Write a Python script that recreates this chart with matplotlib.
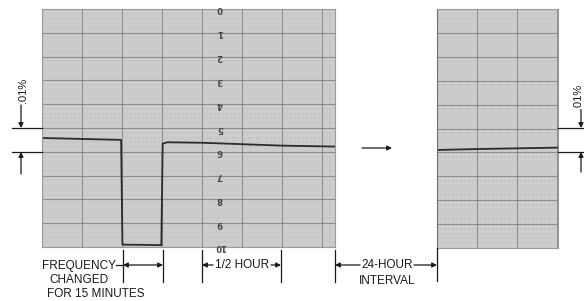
import matplotlib
matplotlib.use("Agg")
import matplotlib.pyplot as plt
import numpy as np

# recorder trace, x in minutes, y in chart divisions (0 = top, 10 = bottom)
left_t = [0, 15, 29.7, 30.2, 44.8, 45.3, 47, 60, 75, 90, 110]
left_v = [5.42, 5.46, 5.5, 9.9, 9.92, 5.66, 5.6, 5.62, 5.68, 5.74, 5.78]
right_t = [0, 15, 30, 45.4]
right_v = [5.9, 5.86, 5.83, 5.8]
scale_labels = [str(i) for i in range(11)]

W, H = 584, 301
fig = plt.figure(figsize=(W / 100, H / 100), dpi=100)
fig.patch.set_facecolor("white")

txt_font = ["Liberation Sans", "DejaVu Sans"]
paper = "#cdcdcd"
trace_col = "#2b2b2b"


def panel(x0, x1, y0, y1, xmax):
    ax = fig.add_axes([x0 / W, 1 - y1 / H, (x1 - x0) / W, (y1 - y0) / H])
    ax.set_facecolor(paper)
    ax.set_xlim(0, xmax)
    ax.set_ylim(10, 0)
    ax.set_xticks(np.arange(0, xmax, 15))
    ax.set_xticks(np.arange(0, xmax, 3), minor=True)
    ax.set_yticks(np.arange(0, 11, 1))
    ax.set_yticks(np.arange(0, 10, 0.2), minor=True)
    ax.grid(which="major", color="#8c8c8c", lw=0.8)
    ax.grid(which="minor", color="#bdbdbd", lw=0.35)
    ax.tick_params(which="both", length=0, labelbottom=False, labelleft=False)
    for s in ax.spines.values():
        s.set_color("#9a9a9a")
        s.set_linewidth(0.8)
    ax.set_axisbelow(True)
    return ax


axl = panel(42, 335, 9, 247, 110)
axl.plot(left_t, left_v, color=trace_col, lw=1.3, solid_joinstyle="round")
for i, lab in enumerate(scale_labels):
    axl.text(66.8, i, lab, rotation=180, fontsize=6, color="#444444",
             ha="center", va="center", fontweight="bold")

axr = panel(437, 558, 9, 248, 45.4)
axr.plot(right_t, right_v, color=trace_col, lw=1.3)
axr.spines["left"].set_color("#707070")

# annotation layer in pixel coordinates
ov = fig.add_axes([0, 0, 1, 1], facecolor="none")
ov.set_xlim(0, W)
ov.set_ylim(H, 0)
ov.axis("off")

lk = dict(color="#1a1a1a", lw=0.9)


def arrow(x0, y0, x1, y1):
    ov.annotate("", xy=(x1, y1), xytext=(x0, y0),
                arrowprops=dict(arrowstyle="-|>", color="#1a1a1a", lw=0.9,
                                mutation_scale=7, shrinkA=0, shrinkB=0))


def label(x, y, s):
    ov.text(x, y, s, ha="center", va="center", fontsize=8.5,
            family=txt_font, color="#1a1a1a")


# .01% markers, left
ov.plot([12, 42], [128, 128], **lk)
ov.plot([12, 42], [152, 152], **lk)
arrow(21, 105, 21, 128)
arrow(21, 174, 21, 152)
ov.text(23, 90, ".01%", rotation=90, ha="center", va="center",
        fontsize=8, family=txt_font, color="#1a1a1a")

# .01% markers, right
ov.plot([558, 584], [128, 128], **lk)
ov.plot([558, 584], [152, 152], **lk)
arrow(581, 110, 581, 128)
arrow(581, 172, 581, 152)
ov.text(578, 96, ".01%", rotation=90, ha="center", va="center",
        fontsize=8, family=txt_font, color="#1a1a1a")

# middle arrow between strips
arrow(362, 148, 392, 148)

# frequency changed
for x in (123, 163):
    ov.plot([x, x], [250, 282], **lk)
label(79, 266, "FREQUENCY")
label(79, 280, "CHANGED")
label(96, 294, "FOR 15 MINUTES")
ov.plot([116, 123], [265, 265], **lk)
ov.annotate("", xy=(123, 265), xytext=(163, 265),
            arrowprops=dict(arrowstyle="<|-|>", color="#1a1a1a", lw=0.9,
                            mutation_scale=7, shrinkA=0, shrinkB=0))

# half hour
for x in (202, 281):
    ov.plot([x, x], [250, 282], **lk)
label(242, 265, "1/2 HOUR")
arrow(213, 265, 202, 265)
arrow(271, 265, 281, 265)

# 24 hour interval
ov.plot([335, 335], [250, 282], **lk)
ov.plot([437, 437], [248, 281], **lk)
label(387, 265, "24-HOUR")
label(387, 281, "INTERVAL")
arrow(360, 265, 335, 265)
arrow(414, 265, 437, 265)

fig.savefig("out.png", dpi=100, facecolor="white")
